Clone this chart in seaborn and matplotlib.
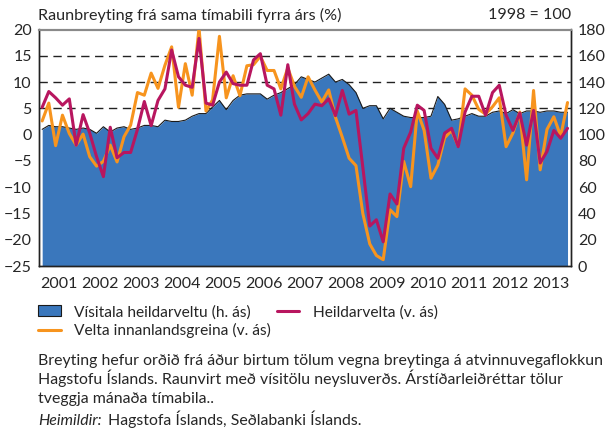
import numpy as np
import pandas as pd
import matplotlib
matplotlib.use('Agg')
import matplotlib.pyplot as plt
import matplotlib.dates as mdates
import seaborn as sns

# Bi-monthly periods 2001-2013 (mid-points of Jan-Feb, Mar-Apr, ...)
periods = pd.date_range('2001-02-01', periods=78, freq='2MS')

# Vísitala heildarveltu, 1998 = 100 (right axis)
visitala = [104, 107, 106, 106, 105, 104, 105, 104, 101, 106, 102, 105, 106, 104, 105, 107,
            107, 106, 111, 110, 110, 111, 114, 116, 116, 121, 126, 119, 126, 130, 131, 131,
            131, 127, 130, 132, 135, 138, 144, 142, 140, 143, 146, 140, 142, 138, 132, 120,
            122, 122, 112, 120, 117, 114, 113, 113, 113, 114, 129, 123, 111, 112, 114, 116,
            114, 114, 117, 118, 116, 119, 116, 118, 118, 117, 118, 118, 117, 117]

# Heildarvelta, % change year on year (left axis)
heildarvelta = [5.2, 8.2, 7.0, 5.6, 6.8, -2.0, 3.8, 0.3, -4.2, -8.0, 1.4, -4.4, -3.4, -3.4, 1.0, 6.3,
                1.7, 6.5, 8.7, 16.1, 11.0, 9.4, 9.0, 18.3, 6.0, 5.6, 10.0, 11.9, 9.7, 9.4, 9.4, 14.2,
                15.4, 9.4, 8.7, 3.7, 13.3, 5.8, 2.8, 4.0, 5.8, 5.5, 6.8, 3.6, 8.4, 3.9, 4.6, -6.2,
                -17.4, -16.2, -20.4, -11.3, -13.2, -2.6, 0.5, 5.6, 4.6, -2.6, -4.5, 0.3, 1.2, -2.3,
                4.3, 7.3, 7.3, 3.7, 8.0, 9.4, 3.7, 0.8, 4.1, -2.0, 4.6, -5.4, -3.2, 0.8, -0.7, 1.2]

# Velta innanlandsgreina, % change year on year (left axis)
velta_innanlands = [2.6, 6.0, -2.1, 3.7, 0.2, -2.0, 0.1, -4.2, -6.0, -5.1, -2.0, -5.2, -0.4, 1.8, 8.0, 7.5,
                    11.7, 8.8, 13.2, 16.7, 5.2, 13.5, 7.5, 20.3, 4.5, 6.6, 18.7, 7.0, 11.2, 7.4, 13.1, 13.3,
                    14.9, 12.2, 12.2, 8.7, 12.7, 9.2, 7.1, 11.0, 8.5, 6.2, 8.5, 3.3, -0.5, -4.5, -5.9, -15.0,
                    -20.8, -23.0, -23.8, -14.3, -15.6, -5.1, -9.9, 4.5, 0.8, -8.3, -5.8, -0.6, 0.8, -2.2,
                    8.7, 7.5, 4.8, 3.9, 5.3, 7.0, -2.3, 0.3, 4.3, -8.6, 8.4, -6.7, 1.0, 3.4, -0.3, 6.1]

df = pd.DataFrame({'dags': periods, 'visitala': visitala,
                   'heildarvelta': heildarvelta, 'innanlands': velta_innanlands})

BLUE = '#3A77BC'
MAGENTA = '#B8165F'
ORANGE = '#F7941E'

sns.set_style('white')
plt.rcParams['font.family'] = ['Lato', 'DejaVu Sans']
plt.rcParams['font.size'] = 11.5

fig = plt.figure(figsize=(6.08, 4.32), dpi=100)
ax = fig.add_axes([38.7 / 608, 1 - 266 / 432, (571 - 38.7) / 608, (266 - 29.5) / 432])
ax2 = ax.twinx()  # left axis (% change) drawn on top of the area

# dashed reference lines under the area
for v in [120, 140, 160]:
    ax.axhline(v, color='#222222', lw=1.0, ls=(0, (6, 4)), zorder=0)

ax.fill_between(df['dags'], 0, df['visitala'], color=BLUE, lw=0, zorder=1)
sns.lineplot(data=df, x='dags', y='visitala', ax=ax, color='#1a1a1a', lw=0.8, zorder=2)

sns.lineplot(data=df, x='dags', y='innanlands', ax=ax2, color=ORANGE, lw=2.2, zorder=3)
sns.lineplot(data=df, x='dags', y='heildarvelta', ax=ax2, color=MAGENTA, lw=2.2, zorder=4)

ax.set_ylim(0, 180)
ax.set_yticks(range(0, 181, 20))
ax2.set_ylim(-25, 20)
ax2.set_yticks(range(-25, 21, 5))
ax.yaxis.tick_right()
ax2.yaxis.tick_left()
ax.set_xlim(pd.Timestamp('2001-01-01'), pd.Timestamp('2014-01-01'))
for a in (ax, ax2):
    a.set_xlabel('')
    a.set_ylabel('')

ax.xaxis.set_major_locator(mdates.YearLocator())
ax.xaxis.set_major_formatter(plt.NullFormatter())
ax.xaxis.set_minor_locator(mdates.YearLocator(month=7))
ax.xaxis.set_minor_formatter(mdates.DateFormatter('%Y'))
ax.tick_params(axis='x', which='major', direction='out', length=8, width=0.8, color='#222222')
ax.tick_params(axis='x', which='minor', length=0, pad=8, labelsize=11.5)
ax.tick_params(axis='y', length=0, pad=5, labelsize=11.5)
ax2.tick_params(axis='y', length=0, pad=5, labelsize=11.5)
ax2.tick_params(axis='x', length=0)

for a in (ax, ax2):
    for s in ['left', 'right', 'bottom']:
        a.spines[s].set_color('#222222')
        a.spines[s].set_linewidth(1.0)
    a.spines['top'].set_color('#8a8a8a')
    a.spines['top'].set_linewidth(1.5)

fig.text(38 / 608, 1 - 15 / 432, 'Raunbreyting frá sama tímabili fyrra árs (%)', ha='left', va='center', fontsize=11.6)
fig.text(571 / 608, 1 - 15 / 432, '1998 = 100', ha='right', va='center', fontsize=11.6)

handles = [plt.Rectangle((0, 0), 1, 1, facecolor=BLUE, edgecolor='#1a1a1a', lw=0.8),
           plt.Line2D([], [], color=ORANGE, lw=2.2),
           plt.Line2D([], [], color=MAGENTA, lw=2.2)]
labels = ['Vísitala heildarveltu (h. ás)', 'Velta innanlandsgreina (v. ás)', 'Heildarvelta (v. ás)']
fig.legend(handles, labels, ncol=2, loc='upper left', bbox_to_anchor=(38 / 608, 1 - 305 / 432),
           frameon=False, fontsize=11.2, handlelength=1.45, handleheight=0.7, handletextpad=0.85,
           columnspacing=0.4, labelspacing=0.25, borderpad=0, borderaxespad=0)

notes = ['Breyting hefur orðið frá áður birtum tölum vegna breytinga á atvinnuvegaflokkun',
         'Hagstofu Íslands. Raunvirt með vísitölu neysluverðs. Árstíðarleiðréttar tölur',
         'tveggja mánaða tímabila..']
for k, line in enumerate(notes):
    fig.text(38 / 608, 1 - (365 + 19 * k) / 432, line, ha='left', va='baseline', fontsize=11.4)
fig.text(38 / 608, 1 - 425 / 432, 'Heimildir:', ha='left', va='baseline', fontsize=11.4, style='italic')
fig.text(108 / 608, 1 - 425 / 432, 'Hagstofa Íslands, Seðlabanki Íslands.', ha='left', va='baseline', fontsize=11.4)

fig.savefig('out.png', dpi=100)
